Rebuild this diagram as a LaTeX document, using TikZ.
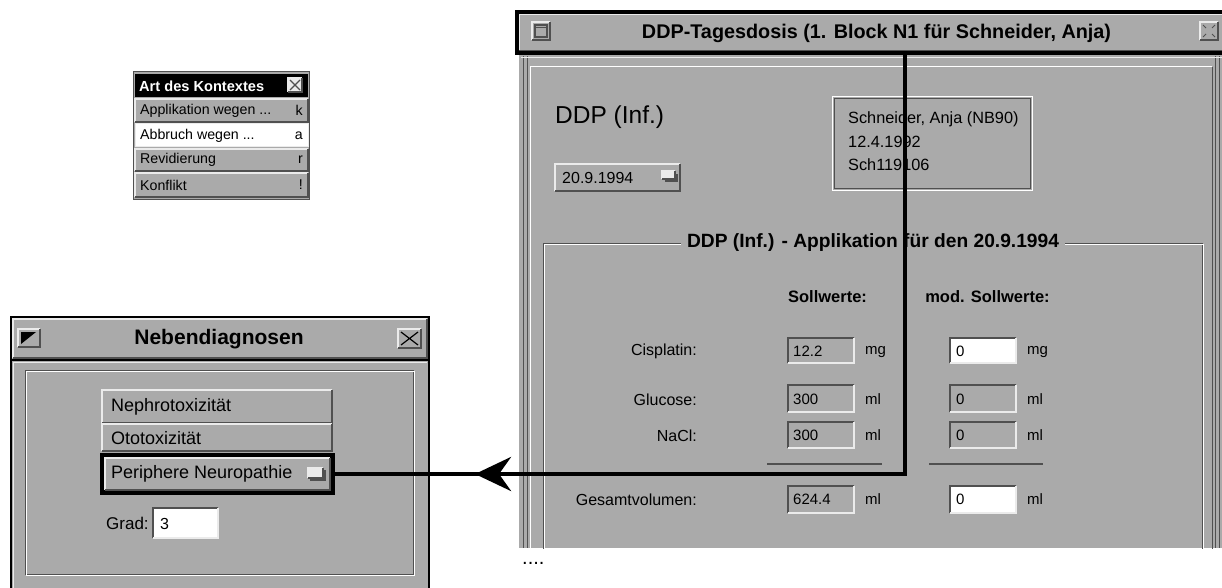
\documentclass[tikz,border=0pt]{standalone}
\usepackage{fontspec}
\setmainfont{Liberation Sans}
\usetikzlibrary{arrows.meta,decorations.markings}
\definecolor{uigray}{RGB}{170,170,170}
\definecolor{uidark}{RGB}{80,80,80}
\definecolor{uilight}{RGB}{235,235,235}
\newcommand\fsz[1]{\fontsize{#1}{#1}\selectfont}
\newcommand\uiraise[5][uigray]{%
  \fill[#1] (#2,#3) rectangle (#4,#5);
  \draw[uilight,line width=1.3pt] (#2,#5) -- (#2,#3) -- (#4,#3);
  \draw[uidark,line width=1.3pt] (#2,#5) -- (#4,#5) -- (#4,#3);}
\newcommand\uisink[5][uigray]{%
  \fill[#1] (#2,#3) rectangle (#4,#5);
  \draw[uidark,line width=1.6pt] (#2,#5) -- (#2,#3) -- (#4,#3);
  \draw[uilight,line width=1.6pt] (#2,#5) -- (#4,#5) -- (#4,#3);}
\newcommand\uietch[4]{%
  \draw[uidark,line width=1pt] (#1,#2) rectangle (#3,#4);
  \draw[white,line width=1pt] (#1+1.5,#2+1.5) rectangle (#3+1.5,#4+1.5);}
\tikzset{
  txt/.style={inner sep=0pt, anchor=west, text=black},
  rtxt/.style={inner sep=0pt, anchor=east, text=black},
  hlbox/.style={draw=black, line width=4.5pt, inner sep=0pt, fill=none},
  conn/.style={line width=4.5pt, postaction={decorate},
    decoration={markings, mark=at position 851pt with {\arrow{Stealth[length=36pt,width=34pt,inset=12pt]}}}},
  bodyf/.style={font=\fsz{16}},
}
\begin{document}
\begin{tikzpicture}[x=1pt,y=-1pt]
\useasboundingbox (0,0) rectangle (1222,588);
\fill[white] (0,0) rectangle (1222,588);

% ---------------- context menu ----------------
\fill[uigray] (133,72) rectangle (309,199);
\draw[uidark,line width=1pt] (133,72) rectangle (309,199);
\fill[black] (135,74) rectangle (308,97);
\node[txt,text=white,font=\fsz{14.6}\bfseries] (mtitle) at (139,86) {Art des Kontextes};
\uiraise[uilight]{288}{78}{302}{92}
\draw[uidark,line width=1.2pt] (290,80) -- (300,90) (300,80) -- (290,90);
\uiraise{135}{99}{308}{122}
\fill[white] (135,124) rectangle (308,147);
\draw[uilight,line width=1pt] (135,124) rectangle (308,147);
\uiraise{135}{149}{308}{171}
\uiraise{135}{173}{308}{197}
\node[txt,font=\fsz{14.2}] (m1) at (140,110.5) {Applikation wegen ...};
\node[txt,font=\fsz{14.2}] (m2) at (140,135.5) {Abbruch wegen ...};
\node[txt,font=\fsz{14.2}] (m3) at (140,160) {Revidierung};
\node[txt,font=\fsz{14.2}] (m4) at (140,185) {Konflikt};
\node[rtxt,font=\fsz{14.2}] (k1) at (303,110.5) {k};
\node[rtxt,font=\fsz{14.2}] (k2) at (303,135.5) {a};
\node[rtxt,font=\fsz{14.2}] (k3) at (303,160) {r};
\node[rtxt,font=\fsz{14.2}] (k4) at (303,185) {!};

% ---------------- Nebendiagnosen window ----------------
\begin{scope}
\clip (0,0) rectangle (440,588);
\fill[uigray] (11,317) rectangle (429,600);
\draw[black,line width=1.2pt] (11,317) rectangle (429,600);
\uiraise{13}{319}{427}{358}
\draw[black,line width=1.5pt] (12,360) -- (428,360);
\draw[uilight,line width=1pt] (13,600) -- (13,362) -- (427,362);
\uiraise{18}{329}{40}{347}
\fill[black] (21,332) -- (36,332) -- (21,344) -- cycle;
\uiraise{398}{329}{421}{348}
\draw[black,line width=1.2pt] (401,332) -- (418,345) (418,332) -- (401,345);
\node[font=\fsz{21}\bfseries,inner sep=0pt] (ntitle) at (219,339) {Nebendiagnosen};
\uietch{25}{370}{413}{574}
\uiraise{102}{390}{332}{423}
\uiraise{102}{424}{332}{451}
\node[txt,font=\fsz{18}] (neph) at (111,406.5) {Nephrotoxizität};
\node[txt,font=\fsz{18}] (oto) at (111,438) {Ototoxizität};
\node[hlbox,minimum width=230pt,minimum height=37pt] (periph) at (217.5,474) {};
\uiraise{105}{458}{330}{490}
\node[txt,font=\fsz{18}] (periphtxt) at (111,474) {Periphere Neuropathie};
\fill[uidark] (310,470) rectangle (326,481);
\uiraise[uilight]{308}{468}{323}{478}
\node[txt,font=\fsz{17}] (grad) at (106,523) {Grad:};
\uisink[white]{153}{508}{218}{538}
\node[txt,font=\fsz{16}] (gradv) at (160,523.5) {3};
\end{scope}

% ---------------- DDP window ----------------
\begin{scope}
\clip (515,0) rectangle (1222,548);
\fill[uigray] (519,12) rectangle (1230,548);
\uiraise{519}{14}{1226}{51}
\draw[uidark,line width=1pt] (523,56) -- (523,548) (527.5,56) -- (527.5,548);
\draw[uidark,line width=1pt] (1215.5,56) -- (1215.5,548) (1219,56) -- (1219,548);
\draw[uilight,line width=1pt] (521,58) -- (1224,58);
\draw[white,line width=1pt] (530.5,560) -- (530.5,67) -- (1212,67);
\draw[uidark,line width=1pt] (1212,67) -- (1212,560);
\uiraise{532}{22}{550}{40}
\draw[uidark,line width=1.2pt] (535,25) rectangle (547,37);
\draw[uidark,line width=1pt] (535,28) -- (547,28);
\uiraise{1200}{22}{1218}{40}
\draw[uidark,line width=1pt] (1203,25) -- (1206,28) (1215,25) -- (1212,28) (1203,37) -- (1206,34) (1215,37) -- (1212,34);
\node[font=\fsz{19.8}\bfseries,inner sep=0pt] (dtitle) at (876.5,33) {DDP-Tagesdosis (1. Block N1 für Schneider, Anja)};

\node[txt,font=\fsz{24.5}] (ddp) at (555,117) {DDP (Inf.)};
\uiraise{555}{164}{680}{191}
\node[txt,font=\fsz{16}] (date) at (562,178) {20.9.1994};
\fill[uidark] (665,174) rectangle (678,182);
\uiraise[uilight]{662}{171}{675}{179}

\draw[white,line width=1pt] (832,97) rectangle (1032,190);
\draw[uidark,line width=1pt] (834,99) rectangle (1030,188);
\node[txt,font=\fsz{16.3}] (p1) at (848,119) {Schneider, Anja (NB90)};
\node[txt,font=\fsz{16.3}] (p2) at (848,142) {12.4.1992};
\node[txt,font=\fsz{16.3}] (p3) at (848,165) {Sch119106};

\uietch{543}{243}{1202}{570}
\node[font=\fsz{19.2}\bfseries,inner sep=0pt,fill=uigray,inner xsep=6pt,inner ysep=3pt] (gtitle) at (873,243) {DDP (Inf.) - Applikation für den 20.9.1994};

\node[font=\fsz{16.5}\bfseries,inner sep=0pt] (h1) at (827.5,297) {Sollwerte:};
\node[font=\fsz{16.5}\bfseries,inner sep=0pt] (h2) at (987.5,297) {mod. Sollwerte:};

\node[rtxt,bodyf] (l1) at (697,351) {Cisplatin:};
\node[rtxt,bodyf] (l2) at (697,399.5) {Glucose:};
\node[rtxt,bodyf] (l3) at (697,435.5) {NaCl:};
\node[rtxt,bodyf] (l4) at (697,499.5) {Gesamtvolumen:};

\uisink{788}{338}{854}{363}
\uisink{788}{385}{854}{412}
\uisink{788}{422}{854}{448}
\uisink{788}{486}{854}{513}
\uisink[white]{950}{338}{1016}{363}
\uisink{950}{385}{1016}{412}
\uisink{950}{422}{1016}{448}
\uisink[white]{950}{486}{1016}{513}

\node[txt,font=\fsz{15}] (v1) at (793,351) {12.2};
\node[txt,font=\fsz{15}] (v2) at (793,399.5) {300};
\node[txt,font=\fsz{15}] (v3) at (793,435.5) {300};
\node[txt,font=\fsz{15}] (v4) at (793,499.5) {624.4};
\node[txt,font=\fsz{15}] (w1) at (956,351) {0};
\node[txt,font=\fsz{15}] (w2) at (956,399.5) {0};
\node[txt,font=\fsz{15}] (w3) at (956,435.5) {0};
\node[txt,font=\fsz{15}] (w4) at (956,499.5) {0};

\node[txt,font=\fsz{15}] (u1) at (865,352) {mg};
\node[txt,font=\fsz{15}] (u2) at (865,399.5) {ml};
\node[txt,font=\fsz{15}] (u3) at (865,435.5) {ml};
\node[txt,font=\fsz{15}] (u4) at (865,499.5) {ml};
\node[txt,font=\fsz{15}] (x1) at (1027,352) {mg};
\node[txt,font=\fsz{15}] (x2) at (1027,399.5) {ml};
\node[txt,font=\fsz{15}] (x3) at (1027,435.5) {ml};
\node[txt,font=\fsz{15}] (x4) at (1027,499.5) {ml};

\draw[uidark,line width=1.3pt] (767,464) -- (882,464);
\draw[uidark,line width=1.3pt] (929,464) -- (1043,464);
\end{scope}

\node[txt,font=\fsz{20}] (dots) at (522,563) {....};

% ---------------- highlight + connector ----------------
\node[hlbox,minimum width=709pt,minimum height=41pt] (titlesel) at (871.5,32.5) {};
\coordinate (drop) at (905,53);
\draw[conn] (drop) |- (periph.east);
\end{tikzpicture}
\end{document}
